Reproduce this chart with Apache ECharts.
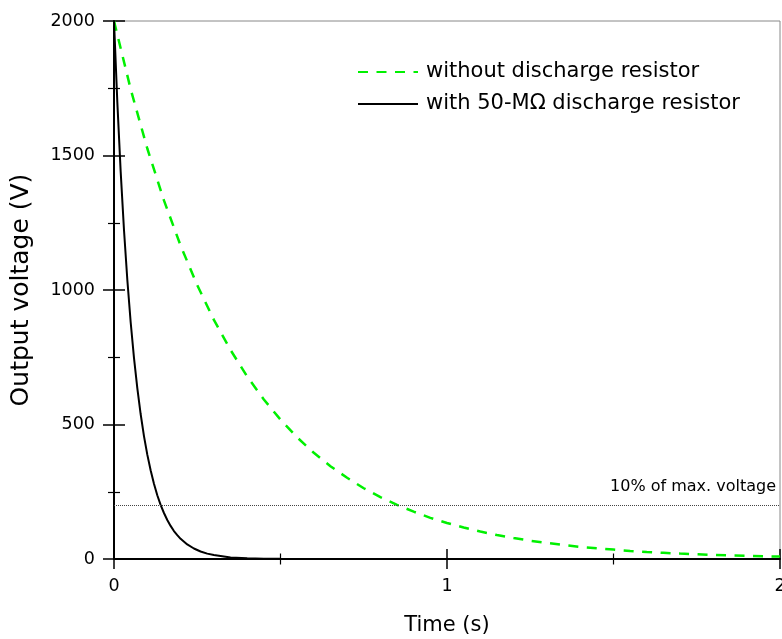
<!DOCTYPE html>
<html>
<head>
<meta charset="utf-8">
<script src="https://cdn.jsdelivr.net/npm/echarts@6/dist/echarts.min.js"></script>
<style>
  html, body { margin: 0; padding: 0; background: #fff; }
  #chart { width: 782px; height: 639px; }
</style>
</head>
<body>
<div id="chart"></div>
<script>
// Output voltage decay of a charged supply, with and without a bleeder resistor
const seriesNames = ['without discharge resistor', 'with 50-M\u03A9 discharge resistor'];

// without discharge resistor (time in s, voltage in V)
const withoutTime = [0, 0.05, 0.10, 0.15, 0.20, 0.25, 0.30, 0.35, 0.40, 0.45, 0.50,
  0.55, 0.60, 0.65, 0.70, 0.75, 0.80, 0.85, 0.90, 0.95, 1.00,
  1.05, 1.10, 1.15, 1.20, 1.25, 1.30, 1.35, 1.40, 1.45, 1.50,
  1.55, 1.60, 1.65, 1.70, 1.75, 1.80, 1.85, 1.90, 1.95, 2.00];
const withoutVolts = [2000, 1747, 1526, 1333, 1165, 1018, 889, 777, 678, 593, 518,
  452, 395, 345, 302, 263, 230, 201, 176, 153, 134,
  117, 102, 89, 78, 68, 60, 52, 45, 40, 35,
  30, 26, 23, 20, 18, 15, 13, 12, 10, 9];

// with 50-MOhm discharge resistor
const withTime = [0, 0.01, 0.02, 0.03, 0.04, 0.05, 0.06, 0.07, 0.08, 0.09, 0.10,
  0.11, 0.12, 0.13, 0.14, 0.15, 0.16, 0.17, 0.18, 0.19, 0.20,
  0.22, 0.24, 0.26, 0.28, 0.30, 0.35, 0.40, 0.45, 0.50, 1.00, 2.00];
const withVolts = [2000, 1698, 1441, 1223, 1038, 881, 748, 635, 539, 457, 388,
  330, 280, 237, 201, 171, 145, 123, 104, 89, 75,
  54, 39, 28, 20, 15, 6, 3, 1, 0.5, 0, 0];

// reference level: 10 % of the maximum voltage
const thresholdVolts = 200;
const thresholdLabel = '10% of max. voltage';

const xTicks = { min: 0, max: 2, interval: 1 };
const yTicks = { min: 0, max: 2000, interval: 500 };

const FONT = '"DejaVu Sans", "Open Sans", sans-serif';

function pairs(xs, ys) { return xs.map((x, i) => [x, ys[i]]); }
function plain(v) { return String(v); }

const chart = echarts.init(document.getElementById('chart'), null, { renderer: 'canvas' });

// two copies of each axis: one draws the outward half of every tick, the other the inward half
function xAxisDef(inside) {
  return {
    type: 'value', position: 'bottom', offset: 0,
    min: xTicks.min, max: xTicks.max, interval: xTicks.interval,
    axisLine: { show: !inside, lineStyle: { color: '#000', width: 2 } },
    axisTick: { show: true, inside: inside, length: 10, lineStyle: { color: '#000', width: 1.5 } },
    minorTick: { show: true, splitNumber: 2, length: 5.5, lineStyle: { color: '#000', width: 1.2 } },
    axisLabel: { show: !inside, color: '#000', fontFamily: FONT, fontSize: 17.5, margin: 18, formatter: plain },
    splitLine: { show: false },
    name: inside ? '' : 'Time (s)',
    nameLocation: 'middle', nameGap: 56,
    nameTextStyle: { color: '#000', fontFamily: FONT, fontSize: 21 }
  };
}
function yAxisDef(inside) {
  return {
    type: 'value', position: 'left', offset: 0,
    min: yTicks.min, max: yTicks.max, interval: yTicks.interval,
    axisLine: { show: !inside, lineStyle: { color: '#000', width: 2 } },
    axisTick: { show: true, inside: inside, length: 11, lineStyle: { color: '#000', width: 1.5 } },
    minorTick: { show: true, splitNumber: 2, length: 6, lineStyle: { color: '#000', width: 1.2 } },
    axisLabel: { show: !inside, color: '#000', fontFamily: FONT, fontSize: 17.5, margin: 19, formatter: plain },
    splitLine: { show: false },
    name: inside ? '' : 'Output voltage (V)',
    nameLocation: 'middle', nameGap: 80,
    nameTextStyle: { color: '#000', fontFamily: FONT, fontSize: 25 }
  };
}

chart.setOption({
  animation: false,
  backgroundColor: '#fff',
  grid: {
    left: 114, right: 2, top: 21, bottom: 80,
    outerBoundsMode: 'none', containLabel: false,
    show: true, borderColor: '#888', borderWidth: 1
  },
  legend: {
    orient: 'vertical', left: 357, top: 60, padding: 0,
    itemWidth: 60, itemHeight: 14, itemGap: 8,
    itemStyle: { opacity: 0 },
    textStyle: { color: '#000', fontFamily: FONT, fontSize: 21, lineHeight: 24, padding: [0, 0, 0, 3] },
    data: seriesNames
  },
  xAxis: [xAxisDef(false), xAxisDef(true)],
  yAxis: [yAxisDef(false), yAxisDef(true)],
  series: [
    {
      name: seriesNames[0], type: 'line', xAxisIndex: 0, yAxisIndex: 0,
      data: pairs(withoutTime, withoutVolts),
      symbol: 'none', smooth: false,
      lineStyle: { color: '#00f000', width: 2.5, type: [10, 8.5] },
      itemStyle: { color: '#00f000' },
      z: 3
    },
    {
      name: seriesNames[1], type: 'line', xAxisIndex: 0, yAxisIndex: 0,
      data: pairs(withTime, withVolts),
      symbol: 'none', smooth: false,
      lineStyle: { color: '#000', width: 2 },
      itemStyle: { color: '#000' },
      z: 4,
      markLine: {
        silent: true, symbol: ['none', 'none'],
        lineStyle: { color: '#444', width: 1, type: [1, 1] },
        label: {
          show: true, position: 'insideEndTop', formatter: thresholdLabel,
          color: '#000', fontFamily: FONT, fontSize: 16, distance: [4, 10]
        },
        data: [{ yAxis: thresholdVolts }]
      }
    }
  ]
});
</script>
</body>
</html>
